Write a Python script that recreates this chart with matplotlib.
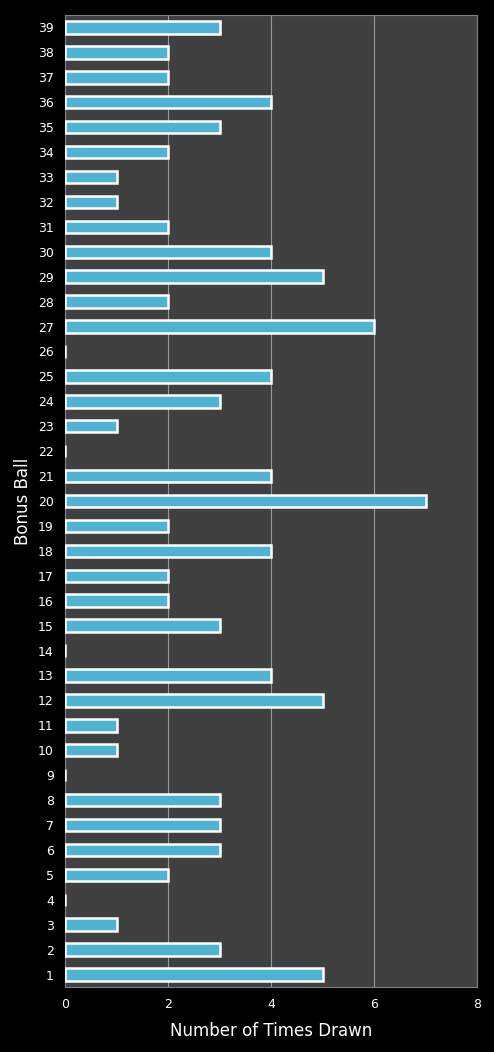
import matplotlib
matplotlib.use("Agg")
import matplotlib.pyplot as plt

# bonus ball numbers and how often each was drawn
balls = list(range(1, 40))
times_drawn = [5, 3, 1, 0, 2, 3, 3, 3, 0, 1,
               1, 5, 4, 0, 3, 2, 2, 4, 2, 7,
               4, 0, 1, 3, 4, 0, 6, 2, 5, 4,
               2, 1, 1, 2, 3, 4, 2, 2, 3]
x_ticks = [0, 2, 4, 6, 8]

fig = plt.figure(figsize=(4.94, 10.52), dpi=100, facecolor="black")
ax = fig.add_axes([65 / 494, 1 - 987 / 1052, 412 / 494, 972 / 1052])
ax.set_facecolor("#404040")

ax.barh(balls, times_drawn, height=0.5, color="#4fb3d4",
        edgecolor="white", linewidth=1.8, zorder=3)

ax.set_xlim(0, 8)
ax.set_ylim(0.5, 39.5)
ax.set_xticks(x_ticks)
ax.set_yticks(balls)
ax.set_yticklabels([str(b) for b in balls])
ax.grid(axis="x", color="#9a9a9a", linewidth=0.8, zorder=0)
ax.tick_params(colors="white", labelsize=9, length=0, pad=8)
for s in ax.spines.values():
    s.set_color("#808080")
    s.set_linewidth(0.8)

ax.set_xlabel("Number of Times Drawn", color="white", fontsize=12, labelpad=8)
ax.set_ylabel("Bonus Ball", color="white", fontsize=12, labelpad=4)

fig.savefig("out.png", facecolor="black")
